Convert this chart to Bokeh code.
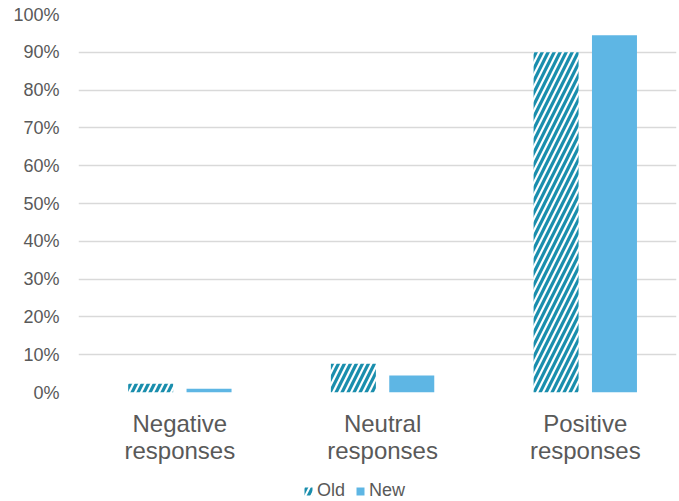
from bokeh.plotting import figure
from bokeh.models import ColumnDataSource, Range1d, FixedTicker, NumeralTickFormatter, Legend, LegendItem
from bokeh.layouts import column
from bokeh.transform import dodge
from bokeh.embed import file_html
from bokeh.resources import INLINE

categories = ["Negative\nresponses", "Neutral\nresponses", "Positive\nresponses"]
series_names = ["Old", "New"]
old_values = [0.023, 0.076, 0.900]
new_values = [0.010, 0.045, 0.945]
y_ticks = [0, 0.1, 0.2, 0.3, 0.4, 0.5, 0.6, 0.7, 0.8, 0.9, 1.0]

xs = [i + 0.5 for i in range(len(categories))]
src = ColumnDataSource(dict(x=xs, old=old_values, new=new_values))

GREY = "#595959"
FONT = "Liberation Sans"
OLD_STYLE = dict(fill_color="white", line_color=None, hatch_pattern="/",
                 hatch_color="#1A8EAD", hatch_scale=12, hatch_weight=3.2)
NEW_STYLE = dict(fill_color="#5EB6E4", line_color=None)

p = figure(width=679, height=470, output_backend="svg", toolbar_location=None,
           x_range=Range1d(0, 2.95), y_range=Range1d(0, 1.0),
           min_border_left=78, min_border_right=3, min_border_top=14, min_border_bottom=78)
p.outline_line_color = None

p.vbar(x=dodge("x", -0.144), top="old", width=0.222, source=src, **OLD_STYLE)
p.vbar(x=dodge("x", 0.144), top="new", width=0.222, source=src, **NEW_STYLE)

p.xaxis.ticker = FixedTicker(ticks=xs)
p.xaxis.major_label_overrides = {x: c for x, c in zip(xs, categories)}
p.xaxis.axis_line_color = None
p.xaxis.major_tick_line_color = None
p.xaxis.minor_tick_line_color = None
p.xaxis.major_label_text_font = FONT
p.xaxis.major_label_text_font_size = "24px"
p.xaxis.major_label_text_color = GREY
p.xaxis.major_label_text_line_height = 1.0
p.xaxis.major_label_standoff = 11
p.xgrid.grid_line_color = None

p.yaxis.ticker = FixedTicker(ticks=y_ticks)
p.yaxis.formatter = NumeralTickFormatter(format="0%")
p.yaxis.axis_line_color = None
p.yaxis.major_tick_line_color = None
p.yaxis.minor_tick_line_color = None
p.yaxis.major_label_text_font = FONT
p.yaxis.major_label_text_font_size = "18px"
p.yaxis.major_label_text_color = GREY
p.yaxis.major_label_standoff = 13
p.ygrid.ticker = FixedTicker(ticks=y_ticks)
p.ygrid.grid_line_color = "#D9D9D9"
p.ygrid.grid_line_width = 1.5

# legend strip below the chart (its bars fall outside its view; only the legend shows)
lg = figure(width=679, height=31, output_backend="svg", toolbar_location=None,
            x_range=Range1d(10, 11), y_range=Range1d(10, 11),
            min_border_left=78, min_border_right=3, min_border_top=0, min_border_bottom=0)
lg.outline_line_color = None
lg.axis.visible = False
lg.grid.visible = False
ro = lg.vbar(x="x", top="old", width=0.1, source=src, **OLD_STYLE)
rn = lg.vbar(x="x", top="new", width=0.1, source=src, **NEW_STYLE)
legend = Legend(items=[LegendItem(label=series_names[0], renderers=[ro], index=0),
                       LegendItem(label=series_names[1], renderers=[rn], index=0)],
                orientation="horizontal", location=(225, 0),
                label_text_font=FONT, label_text_font_size="18px", label_text_color=GREY,
                glyph_width=10, glyph_height=10, label_standoff=4, spacing=10,
                padding=0, margin=0, border_line_color=None, background_fill_alpha=0)
lg.add_layout(legend, "center")

layout = column(p, lg, spacing=0)
open("out.html", "w").write(file_html(layout, INLINE))
